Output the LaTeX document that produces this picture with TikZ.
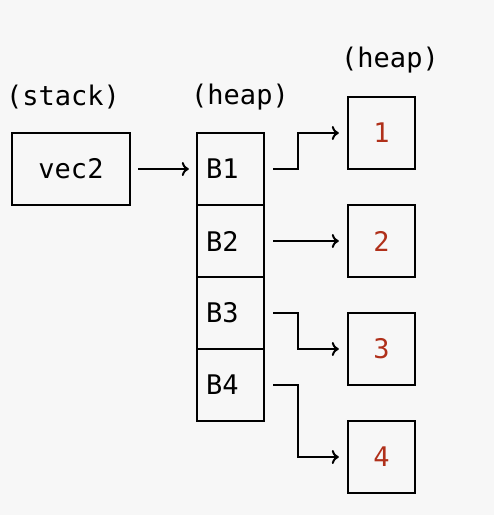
\documentclass[tikz,border=0pt]{standalone}
\usepackage{fontspec}
\setmonofont{DejaVu Sans Mono}
\usetikzlibrary{arrows.meta}
\definecolor{bg}{HTML}{F7F7F7}
\definecolor{numred}{HTML}{B0301A}
\begin{document}
\begin{tikzpicture}[x=1pt,y=-1pt,
  every node/.style={font=\ttfamily\fontsize{27}{32}\selectfont},
  cell/.style={draw,line width=2.4pt,minimum width=67pt,minimum height=72pt,inner sep=0pt},
  valbox/.style={draw,line width=2.4pt,minimum width=67pt,minimum height=72pt,inner sep=0pt,text=numred},
  link/.style={line width=2pt,-{To[length=7pt,width=14pt]}},
  caption/.style={inner sep=0pt}]
  \fill[bg] (0,0) rectangle (494,515);
  \useasboundingbox (0,0) rectangle (494,515);

  % labels above the columns
  \node[caption] (lstack) at (63,97) {(stack)};
  \node[caption] (lheap) at (240,97) {(heap)};
  \node[caption] (lheap2) at (390,60) {(heap)};

  % stack slot
  \node[cell,minimum width=118pt] (vec) at (71,169) {vec2};

  % heap vector of boxes
  \node[cell] (b1) at (230.5,169) {};
  \node[cell] (b2) at (230.5,241) {};
  \node[cell] (b3) at (230.5,313) {};
  \node[cell] (b4) at (230.5,385) {};
  \foreach \i in {1,...,4}
    \node[anchor=west,inner sep=0pt] (t\i) at ([xshift=10pt]b\i.west) {B\i};

  % boxed values
  \node[valbox] (v1) at (381.5,133) {1};
  \node[valbox] (v2) at (381.5,241) {2};
  \node[valbox] (v3) at (381.5,349) {3};
  \node[valbox] (v4) at (381.5,457) {4};

  % pointers
  \draw[link] ([xshift=7pt]vec.east) -- ([xshift=-7pt]b1.west);
  \draw[link] ([xshift=8pt]b1.east) -- ++(25,0) |- ([xshift=-8pt]v1.west);
  \draw[link] ([xshift=8pt]b2.east) -- ([xshift=-8pt]v2.west);
  \draw[link] ([xshift=8pt]b3.east) -- ++(25,0) |- ([xshift=-8pt]v3.west);
  \draw[link] ([xshift=8pt]b4.east) -- ++(25,0) |- ([xshift=-8pt]v4.west);
\end{tikzpicture}
\end{document}
